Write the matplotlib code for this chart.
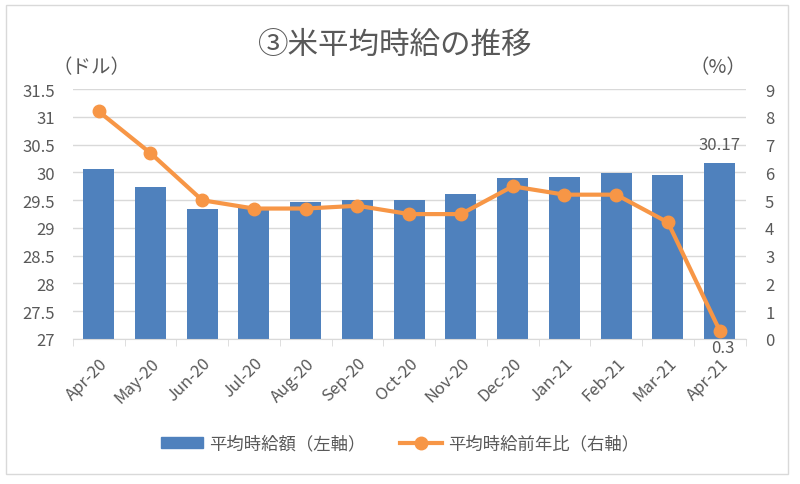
import matplotlib

matplotlib.use("Agg")
import matplotlib.pyplot as plt
from matplotlib.lines import Line2D
from matplotlib.patches import Patch, Rectangle

plt.rcParams["font.family"] = ["Noto Sans CJK JP", "DejaVu Sans"]

# --------------------------------------------------------------------------- #
# Data
# --------------------------------------------------------------------------- #
months = ["Apr-20", "May-20", "Jun-20", "Jul-20", "Aug-20", "Sep-20", "Oct-20",
          "Nov-20", "Dec-20", "Jan-21", "Feb-21", "Mar-21", "Apr-21"]
wage = [30.07, 29.73, 29.35, 29.36, 29.46, 29.50, 29.51,
        29.61, 29.90, 29.92, 29.99, 29.95, 30.17]
yoy = [8.2, 6.7, 5.0, 4.7, 4.7, 4.8, 4.5, 4.5, 5.5, 5.2, 5.2, 4.2, 0.3]
left_ticks = ["27", "27.5", "28", "28.5", "29", "29.5", "30", "30.5", "31", "31.5"]

BLUE = "#4f81bd"
ORANGE = "#f79646"
GRID = "#d9d9d9"
TXT = "#595959"

fig = plt.figure(figsize=(8, 4.85), dpi=100)
fig.patches.append(Rectangle((0.007, 0.02), 0.978, 0.968, transform=fig.transFigure,
                             fill=False, edgecolor="#d9d9d9", lw=1))

ax = fig.add_axes([0.091, 0.299, 0.841, 0.515])
ax2 = ax.twinx()

x = range(len(months))
ax.bar(x, wage, width=0.6, color=BLUE, zorder=2)
ax.set_ylim(27, 31.5)
ax.set_yticks([27 + 0.5 * i for i in range(len(left_ticks))])
ax.set_yticklabels(left_ticks)
ax.set_xlim(-0.5, len(months) - 0.5)
ax.set_xticks(x)
ax.set_xticklabels(months, rotation=45, ha="right", rotation_mode="anchor")
ax.set_xticks([i - 0.5 for i in range(len(months) + 1)], minor=True)
ax.grid(axis="y", color=GRID, lw=1, zorder=0)
ax.set_axisbelow(True)

ax2.plot(x, yoy, color=ORANGE, lw=3, marker="o", ms=9, zorder=3)
ax2.set_ylim(0, 9)
ax2.set_yticks(range(10))

for a in (ax, ax2):
    for s in a.spines.values():
        s.set_visible(False)
ax.spines["bottom"].set_visible(True)
ax.spines["bottom"].set_color(GRID)
ax.tick_params(axis="x", which="major", length=0, pad=11, colors=TXT, labelsize=12)
ax.tick_params(axis="x", which="minor", length=5, color=GRID)
ax.tick_params(axis="y", length=0, colors=TXT, labelsize=12, pad=13)
ax2.tick_params(axis="y", length=0, colors=TXT, labelsize=12, pad=14)

ax.annotate(f"{wage[-1]:.2f}", (x[-1], wage[-1]), xytext=(0, 7),
            textcoords="offset points", ha="center", va="bottom", color=TXT, fontsize=12)
ax2.annotate(f"{yoy[-1]}", (x[-1], yoy[-1]), xytext=(2, -6),
             textcoords="offset points", ha="center", va="top", color=TXT, fontsize=12)

fig.text(0.494, 0.907, "③米平均時給の推移", ha="center", va="center", fontsize=22, color=TXT)
fig.text(0.115, 0.86, "（ドル）", ha="center", va="center", fontsize=14, color=TXT)
fig.text(0.897, 0.86, "（%）", ha="center", va="center", fontsize=14, color=TXT)

handles = [Patch(color=BLUE),
           Line2D([], [], color=ORANGE, lw=3, marker="o", ms=9)]
fig.legend(handles, ["平均時給額（左軸）", "平均時給前年比（右軸）"], loc="center",
           bbox_to_anchor=(0.5, 0.083), ncol=2, frameon=False, fontsize=12.5,
           labelcolor=TXT, handlelength=2.4, handleheight=0.55, handletextpad=0.35,
           columnspacing=2.0)

fig.savefig("out.png", dpi=100)
